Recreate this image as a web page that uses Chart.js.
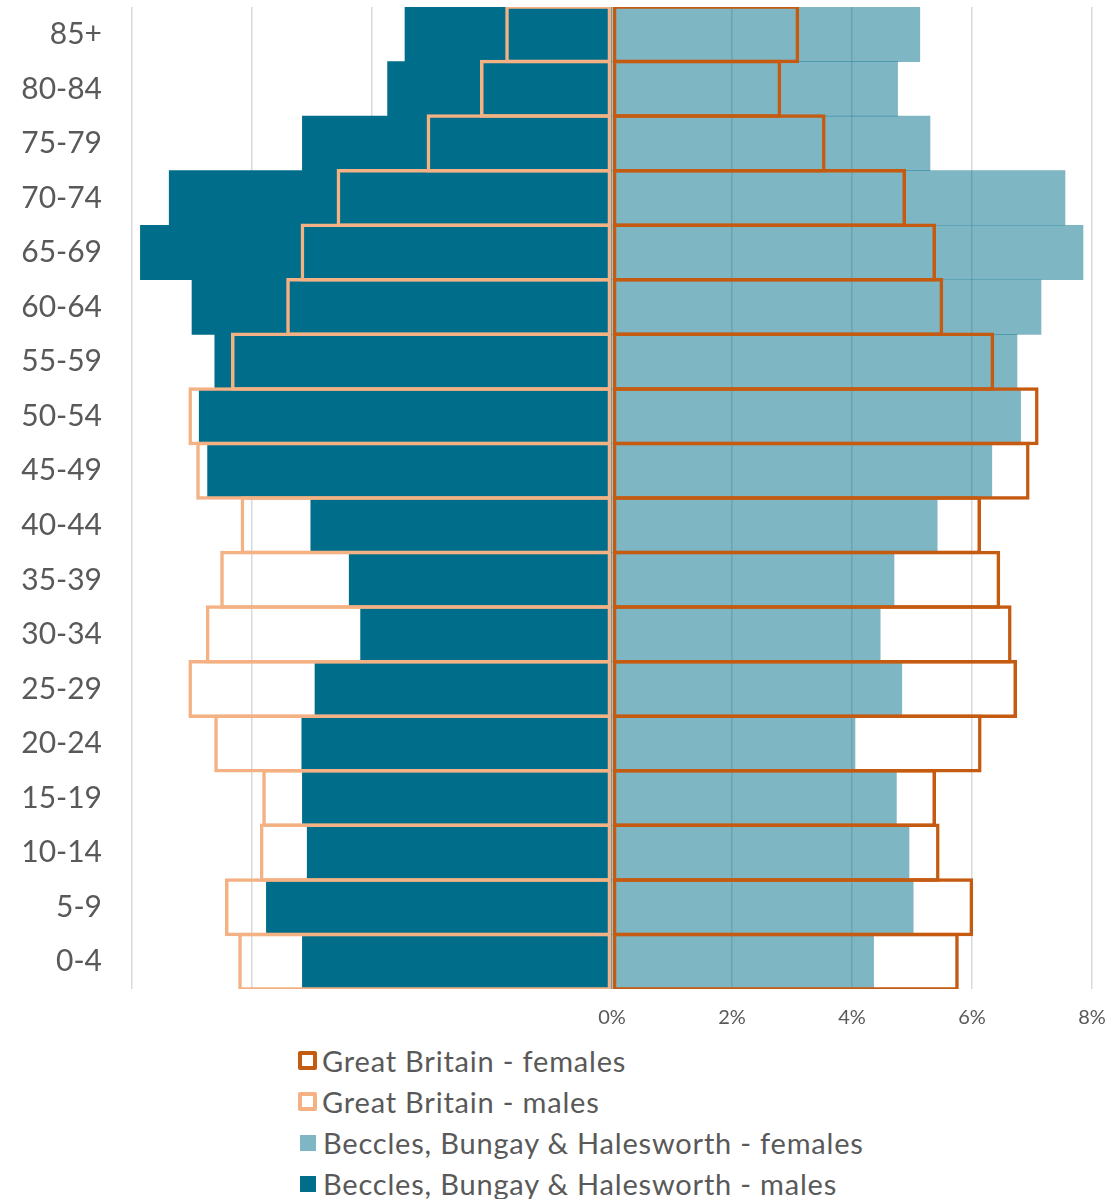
<!DOCTYPE html>
<html>
<head>
<meta charset="utf-8">
<script src="https://cdn.jsdelivr.net/npm/chart.js@4.4.1/dist/chart.umd.min.js"></script>
<style>
  html, body { margin: 0; padding: 0; background: #fff; }
  #wrap { position: relative; width: 1119px; height: 1199px; }
  #chartBox { position: absolute; left: 0; top: 0; width: 1119px; height: 1040px; }
  #legend { position: absolute; left: 298px; top: 1040px; font-family: Lato, "DejaVu Sans", sans-serif; font-size: 29px; letter-spacing: 0.8px; color: #595959; }
  .item { height: 41px; line-height: 41px; display: flex; align-items: center; white-space: nowrap; }
  .box { display: inline-block; box-sizing: border-box; margin-right: 5px; }
</style>
</head>
<body>
<div id="wrap">
  <div id="chartBox"><canvas id="pyramid"></canvas></div>
  <div id="legend"></div>
</div>
<script>
// age bands, top of the pyramid first
const ageBands = ['85+', '80-84', '75-79', '70-74', '65-69', '60-64', '55-59', '50-54', '45-49',
  '40-44', '35-39', '30-34', '25-29', '20-24', '15-19', '10-14', '5-9', '0-4'];

// % of population (males shown on the left, so negative)
const gbFemales = [3.12, 2.82, 3.56, 4.90, 5.40, 5.52, 6.37, 7.11, 6.96,
  6.15, 6.47, 6.66, 6.75, 6.16, 5.40, 5.46, 6.02, 5.78];
const gbMales = [-1.78, -2.20, -3.09, -4.59, -5.19, -5.43, -6.35, -7.06, -6.93,
  -6.19, -6.53, -6.77, -7.06, -6.63, -5.83, -5.87, -6.45, -6.23];
const localFemales = [5.13, 4.76, 5.30, 7.55, 7.85, 7.15, 6.75, 6.81, 6.33,
  5.42, 4.70, 4.47, 4.83, 4.05, 4.74, 4.95, 5.02, 4.36];
const localMales = [-3.45, -3.74, -5.16, -7.38, -7.86, -7.00, -6.62, -6.88, -6.74,
  -5.02, -4.38, -4.19, -4.95, -5.17, -5.16, -5.08, -5.76, -5.16];

const tickFont = { family: 'Lato, "DejaVu Sans", sans-serif' };
const textGrey = '#595959';
const outlineWidth = 3.5;
// outline bars a bit taller than the band so neighbouring borders overlap like in Excel
const outlinePct = (54.5 + outlineWidth) / 54.5;

const datasets = [
  {
    label: 'Great Britain - females', data: gbFemales,
    backgroundColor: 'rgba(0,0,0,0)', borderColor: '#C55A11', borderWidth: outlineWidth,
    borderSkipped: false, barPercentage: outlinePct, outline: true
  },
  {
    label: 'Great Britain - males', data: gbMales,
    backgroundColor: 'rgba(0,0,0,0)', borderColor: '#F4B183', borderWidth: outlineWidth,
    borderSkipped: false, barPercentage: outlinePct, outline: true
  },
  {
    label: 'Beccles, Bungay & Halesworth - females', data: localFemales,
    backgroundColor: 'rgba(0,110,138,0.5)', borderWidth: 0, barPercentage: 1
  },
  {
    label: 'Beccles, Bungay & Halesworth - males', data: localMales,
    backgroundColor: '#006E8A', borderWidth: 0, barPercentage: 1
  }
];

const chart = new Chart(document.getElementById('pyramid'), {
  type: 'bar',
  data: { labels: ageBands, datasets: datasets },
  options: {
    indexAxis: 'y',
    responsive: true,
    maintainAspectRatio: false,
    animation: false,
    datasets: { bar: { grouped: false, categoryPercentage: 1 } },
    layout: { padding: { top: 7, right: 27, left: 0, bottom: 0 } },
    plugins: { legend: { display: false }, tooltip: { enabled: false } },
    scales: {
      x: {
        min: -8, max: 8,
        ticks: {
          stepSize: 2,
          padding: 17,
          color: textGrey,
          font: { ...tickFont, size: 20 },
          callback: v => v >= 0 ? v + '%' : ''
        },
        grid: { color: '#D9D9D9', lineWidth: 1.5, drawTicks: false },
        border: { display: false },
        afterFit: s => { s.height = 51; s.paddingLeft = 0; s.paddingRight = 0; }
      },
      y: {
        ticks: { padding: 30, color: textGrey, font: { ...tickFont, size: 30 } },
        grid: { display: false, drawTicks: false },
        border: { display: false },
        afterFit: s => { s.width = 132; s.paddingTop = 0; s.paddingBottom = 0; }
      }
    }
  }
});

// legend as a vertical list, built from the datasets
const legendEl = document.getElementById('legend');
chart.data.datasets.forEach(ds => {
  const row = document.createElement('div');
  row.className = 'item';
  const box = document.createElement('span');
  box.className = 'box';
  if (ds.outline) {
    box.style.width = '19px'; box.style.height = '19px';
    box.style.border = '4px solid ' + ds.borderColor;
    box.style.borderRadius = '2px';
    box.style.background = '#fff';
  } else {
    box.style.width = '16px'; box.style.height = '16px';
    box.style.margin = '0 7px 0 2px';
    box.style.background = ds.backgroundColor;
  }
  row.appendChild(box);
  row.appendChild(document.createTextNode(ds.label));
  legendEl.appendChild(row);
});
</script>
</body>
</html>
